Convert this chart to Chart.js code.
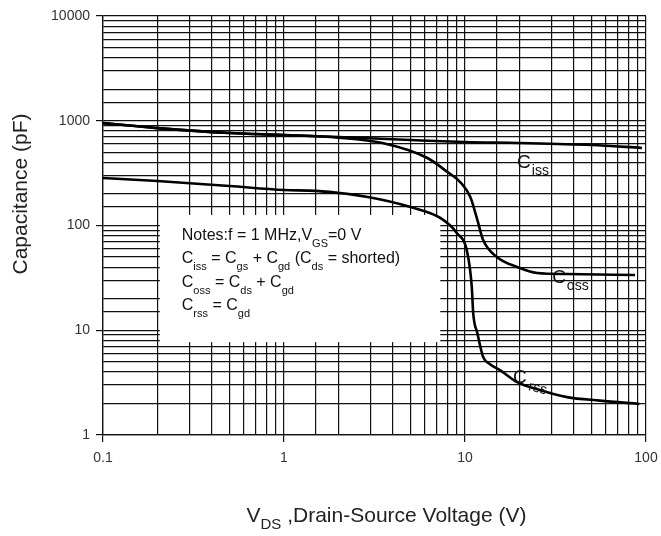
<!DOCTYPE html>
<html>
<head>
<meta charset="utf-8">
<script src="https://cdn.jsdelivr.net/npm/chart.js@4.4.1/dist/chart.umd.min.js"></script>
<style>
  html, body { margin: 0; padding: 0; background: #fff; }
</style>
</head>
<body>
<canvas id="cap-chart" width="661" height="536"></canvas>
<script>
const capChart = document.getElementById("cap-chart");

// curves (V in volts, C in pF)
const cissV = [0.1, 0.2, 0.5, 1, 2, 5, 10, 20, 50, 95];
const cissC = [950, 850, 764, 731, 700, 655, 627, 614, 587, 550];

const cossV = [0.1, 0.2, 0.5, 1, 2, 3.5, 6.2, 8, 9.4, 10.7, 11.7, 12.6, 15, 19.4, 25, 36.6, 87];
const cossC = [950, 850, 764, 731, 690, 613, 441, 324, 260, 187, 113, 72.7, 50, 40.2, 35.2, 34.4, 33.7];

const crssV = [0.1, 0.2, 0.5, 1, 1.5, 2.9, 5, 7.3, 9, 10.3, 10.9, 11.1, 11.7, 12.6, 13.7, 15.6, 19.4, 25.9, 36.6, 55.7, 92];
const crssC = [284, 266, 238, 218, 214, 187, 150, 118, 85, 55, 26, 14.6, 9.4, 5.55, 4.76, 4.17, 3.2, 2.69, 2.3, 2.13, 1.98];

const xRange = [0.1, 100];
const yRange = [1, 10000];

// curve labels: name, subscript, anchor (V, pF), tilt of subscript
const curveLabels = [
  ["C", "iss", 19.4, 354, 0],
  ["C", "oss", 30.3, 28.3, 0],
  ["C", "rss", 18.4, 3.14, 0.25],
];

const noteLines = [
  [["Notes:f = 1 MHz,V"], ["GS", 1], ["=0 V"]],
  [["C"], ["iss", 1], [" = C"], ["gs", 1], [" + C"], ["gd", 1], [" (C"], ["ds", 1], [" = shorted)"]],
  [["C"], ["oss", 1], [" = C"], ["ds", 1], [" + C"], ["gd", 1]],
  [["C"], ["rss", 1], [" = C"], ["gd", 1]],
];

const FONT = '"Liberation Sans", Arial, sans-serif';

function toPoints(xs, ys) {
  return xs.map((x, i) => ({ x: x, y: ys[i] }));
}

function isDecade(v) {
  const l = Math.log10(v);
  return Math.abs(l - Math.round(l)) < 1e-6;
}

function richWidth(ctx, parts, size, subSize) {
  let w = 0;
  parts.forEach(p => {
    ctx.font = (p[1] ? subSize : size) + "px " + FONT;
    w += ctx.measureText(p[0]).width;
  });
  return w;
}

function drawRich(ctx, x, y, parts, size, subSize, drop) {
  parts.forEach(p => {
    ctx.font = (p[1] ? subSize : size) + "px " + FONT;
    ctx.fillText(p[0], x, p[1] ? y + drop : y);
    x += ctx.measureText(p[0]).width;
  });
  return x;
}

// white notes box, over the grid but under the curves
const notesBox = {
  id: "notesBox",
  beforeDatasetsDraw(chart) {
    const { ctx, scales: { x, y } } = chart;
    const left = x.getPixelForValue(0.206);
    const right = x.getPixelForValue(7.3);
    const top = y.getPixelForValue(126);
    const bottom = y.getPixelForValue(7.7);
    ctx.save();
    ctx.fillStyle = "#fff";
    ctx.fillRect(left, top, right - left, bottom - top);
    ctx.restore();
  },
  afterDatasetsDraw(chart) {
    const { ctx, chartArea, scales: { x, y } } = chart;
    ctx.save();
    ctx.fillStyle = "#111";
    ctx.textBaseline = "alphabetic";
    ctx.textAlign = "left";

    // notes text
    const nx = x.getPixelForValue(0.206) + 22;
    let ny = y.getPixelForValue(126) + 25;
    noteLines.forEach(line => {
      drawRich(ctx, nx, ny, line, 16, 11, 7);
      ny += 23.5;
    });

    // curve labels
    curveLabels.forEach(l => {
      const px = x.getPixelForValue(l[2]);
      const py = y.getPixelForValue(l[3]);
      ctx.font = "19px " + FONT;
      ctx.fillText(l[0], px, py);
      const w = ctx.measureText(l[0]).width;
      ctx.save();
      ctx.translate(px + w + 1, py + 7);
      ctx.rotate(l[4]);
      ctx.font = "14px " + FONT;
      ctx.fillText(l[1], 0, 0);
      ctx.restore();
    });

    // axis titles
    ctx.fillStyle = "#222";
    const xt = [["V"], ["DS", 1], [" ,Drain-Source Voltage (V)"]];
    const xw = richWidth(ctx, xt, 21, 15);
    const cx = (chartArea.left + chartArea.right) / 2 + 12;
    drawRich(ctx, cx - xw / 2, 522, xt, 21, 15, 7);

    ctx.translate(21, 194);
    ctx.rotate(-Math.PI / 2);
    ctx.textAlign = "center";
    ctx.textBaseline = "middle";
    ctx.font = "21px " + FONT;
    ctx.fillText("Capacitance (pF)", 0, 0);
    ctx.restore();
  },
};

const curveStyle = {
  borderColor: "#000",
  borderWidth: 2.6,
  pointRadius: 0,
  fill: false,
  cubicInterpolationMode: "monotone",
};

new Chart(capChart, {
  type: "line",
  data: {
    datasets: [
      { label: "Ciss", data: toPoints(cissV, cissC), ...curveStyle },
      { label: "Coss", data: toPoints(cossV, cossC), ...curveStyle },
      { label: "Crss", data: toPoints(crssV, crssC), ...curveStyle },
    ],
  },
  options: {
    responsive: false,
    animation: false,
    layout: { padding: { left: 0, top: 16, right: 15, bottom: 0 } },
    plugins: {
      legend: { display: false },
      tooltip: { enabled: false },
    },
    scales: {
      x: {
        type: "logarithmic",
        min: xRange[0],
        max: xRange[1],
        afterFit: s => { s.height = 101; s.paddingLeft = 0; s.paddingRight = 0; },
        border: { display: true, color: "#111", width: 1.3 },
        grid: {
          color: "#111",
          lineWidth: 1.2,
          tickLength: 7,
          tickColor: c => (c.tick && isDecade(c.tick.value) ? "#111" : "rgba(0,0,0,0)"),
        },
        ticks: {
          autoSkip: false,
          maxRotation: 0,
          padding: 8,
          color: "#333",
          font: { family: FONT, size: 14 },
          callback: v => (isDecade(v) ? String(+v.toPrecision(3)) : ""),
        },
      },
      y: {
        type: "logarithmic",
        min: yRange[0],
        max: yRange[1],
        afterFit: s => { s.width = 103; s.paddingTop = 0; s.paddingBottom = 0; },
        border: { display: true, color: "#111", width: 1.3 },
        grid: {
          color: "#111",
          lineWidth: 1.2,
          tickLength: 7,
          tickColor: c => (c.tick && isDecade(c.tick.value) ? "#111" : "rgba(0,0,0,0)"),
        },
        ticks: {
          autoSkip: false,
          padding: 6,
          color: "#333",
          font: { family: FONT, size: 14 },
          callback: v => (isDecade(v) ? String(Math.round(v)) : ""),
        },
      },
    },
  },
  plugins: [notesBox],
});
</script>
</body>
</html>
